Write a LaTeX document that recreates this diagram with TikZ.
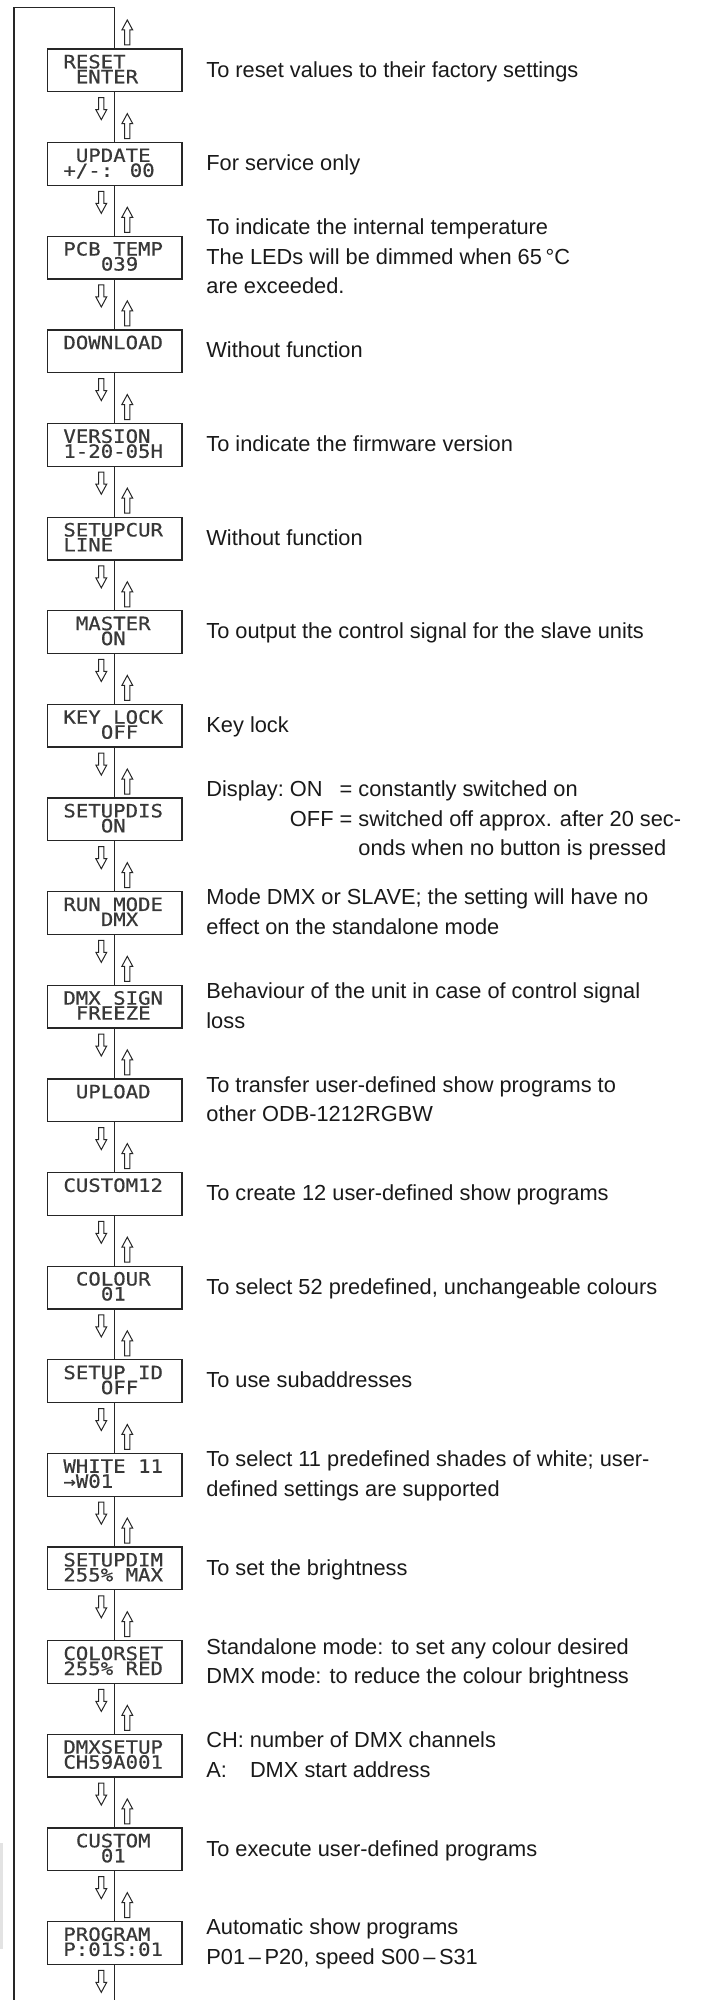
\documentclass[tikz,border=0pt]{standalone}
\usepackage{fontspec}
\setmainfont{Liberation Sans}
\newfontfamily\lcdfont[FakeStretch=1.13,FakeBold=0.5]{DejaVu Sans Mono}
\newcommand{\descfont}{\fontsize{10.9}{14.75}\selectfont}
\newcommand{\lcdsize}{\lcdfont\fontsize{9.15}{9.15}\selectfont}
\newcommand{\dl}[1]{\begin{tabular}[t]{@{}l@{}}#1\end{tabular}}
\tikzset{
  menubox/.style={draw=black!85, line width=0.65pt, fill=white, minimum width=67.15pt, minimum height=21.35pt, inner sep=0pt},
  lcdtext/.style={anchor=base west, inner sep=0pt, font=\lcdsize, text=black!78},
  desctext/.style={anchor=base west, inner sep=0pt, font=\descfont, text=black!90},
  loopline/.style={draw=black!85, line width=0.6pt},
  arrowline/.style={draw=black!85, line width=0.5pt, fill=white, line join=miter},
  uparr/.pic={\draw[arrowline] (-2.6,12.5) -- (-2.6,-2.5) -- (-5.4,-2.5) -- (0,-12.5) -- (5.4,-2.5) -- (2.6,-2.5) -- (2.6,12.5) -- cycle;},
  downarr/.pic={\draw[arrowline] (-2.6,-11) -- (-2.6,1) -- (-5.4,1) -- (0,11) -- (5.4,1) -- (2.6,1) -- (2.6,-11) -- cycle;},
}
\newcommand{\mrow}[7]{%
  \pgfmathsetmacro{\rowtop}{49+93.63*#1}%
  \pgfmathsetmacro{\rowmid}{\rowtop+21.35}%
  \node[menubox] (b#1) at (114.8,\rowmid) {};
  \node[lcdtext] (b#1a) at ({63+12.5*#2},{\rowtop+19.3}) {#3};
  \if\relax\detokenize{#5}\relax\else
    \node[lcdtext] (b#1b) at ({63+12.5*#4},{\rowtop+34.3}) {#5};
  \fi
  \node[desctext] (d#1) at (206,{\rowmid+6.7-(#6-1)*14.75}) {#7};
}
\begin{document}
\begin{tikzpicture}[x=0.5pt,y=-0.5pt]
\useasboundingbox (0,0) rectangle (724,2000);
\fill[black!11] (0,1842.7) rectangle (3.3,1949.3);

\mrow{0}{0}{RESET}{1}{ENTER}{1}{\dl{To reset values to their factory settings}}
\mrow{1}{1}{UPDATE}{0}{+/-: 00}{1}{\dl{For service only}}
\mrow{2}{0}{PCB TEMP}{3}{039}{3}{\dl{To indicate the internal temperature\\The LEDs will be dimmed when 65\,°C\\are exceeded.}}
\mrow{3}{0}{DOWNLOAD}{0}{}{1}{\dl{Without function}}
\mrow{4}{0}{VERSION}{0}{1-20-05H}{1}{\dl{To indicate the firmware version}}
\mrow{5}{0}{SETUPCUR}{0}{LINE}{1}{\dl{Without function}}
\mrow{6}{1}{MASTER}{3}{ON}{1}{\dl{To output the control signal for the slave units}}
\mrow{7}{0}{KEY LOCK}{3}{OFF}{1}{\dl{Key lock}}
\mrow{8}{0}{SETUPDIS}{3}{ON}{3}{\begin{tabular}[t]{@{}l@{\ }l@{\ }l@{}}Display: & ON & = constantly switched on\\ & OFF & = switched off approx. after 20 sec-\\ & & \hphantom{=\ }onds when no button is pressed\end{tabular}}
\mrow{9}{0}{RUN MODE}{3}{DMX}{2}{\dl{Mode DMX or SLAVE; the setting will have no\\effect on the standalone mode}}
\mrow{10}{0}{DMX SIGN}{1}{FREEZE}{2}{\dl{Behaviour of the unit in case of control signal\\loss}}
\mrow{11}{1}{UPLOAD}{0}{}{2}{\dl{To transfer user-defined show programs to\\other ODB-1212RGBW}}
\mrow{12}{0}{CUSTOM12}{0}{}{1}{\dl{To create 12 user-defined show programs}}
\mrow{13}{1}{COLOUR}{3}{01}{1}{\dl{To select 52 predefined, unchangeable colours}}
\mrow{14}{0}{SETUP ID}{3}{OFF}{1}{\dl{To use subaddresses}}
\mrow{15}{0}{WHITE 11}{0}{→W01}{2}{\dl{To select 11 predefined shades of white; user-\\defined settings are supported}}
\mrow{16}{0}{SETUPDIM}{0}{255\% MAX}{1}{\dl{To set the brightness}}
\mrow{17}{0}{COLORSET}{0}{255\% RED}{2}{\dl{Standalone mode: to set any colour desired\\DMX mode: to reduce the colour brightness}}
\mrow{18}{0}{DMXSETUP}{0}{CH59A001}{2}{\begin{tabular}[t]{@{}l@{\ }l@{}}CH: & number of DMX channels\\A: & DMX start address\end{tabular}}
\mrow{19}{1}{CUSTOM}{3}{01}{1}{\dl{To execute user-defined programs}}
\mrow{20}{0}{PROGRAM}{0}{P:01S:01}{2}{\dl{Automatic show programs\\P01\,–\,P20, speed S00\,–\,S31}}

\coordinate (tl) at (14,7.5);
\coordinate (tr) at (114.8,7.5);
\coordinate (bl) at (14,2000);
\coordinate (br) at (114.8,2000);
\draw[loopline] (bl) -- (tl) -- (tr) -- (b0.north);
\foreach \i [evaluate=\i as \j using int(\i+1)] in {0,...,19} {
  \draw[loopline] (b\i.south) -- (b\j.north);
}
\draw[loopline] (b20.south) -- (br);

\foreach \i in {0,...,20} {
  \pgfmathsetmacro{\rt}{49+93.63*\i}
  \pic at (127.3,{\rt-16.5}) {uparr};
  \pic at (101.3,{\rt+42.7+17}) {downarr};
}
\end{tikzpicture}
\end{document}
